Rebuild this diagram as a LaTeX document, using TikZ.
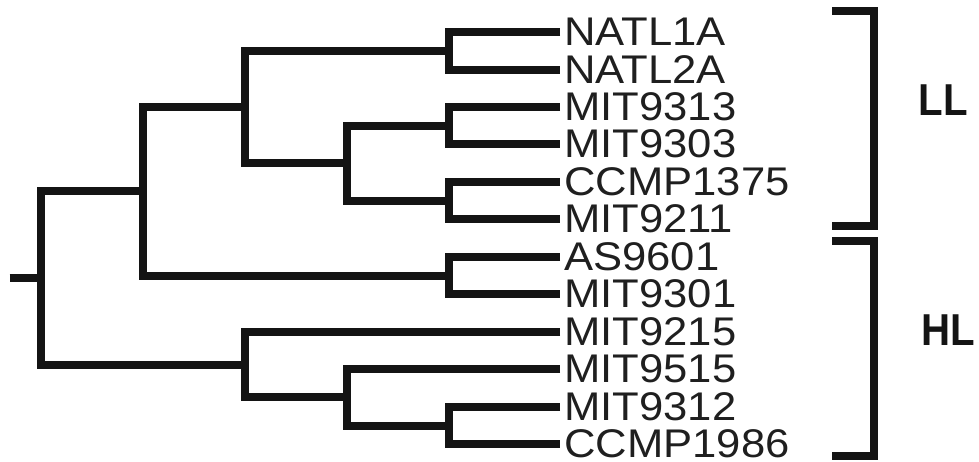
\documentclass[tikz,border=0pt]{standalone}
\usepackage{fontspec}
\setmainfont{Liberation Sans}
\begin{document}
\begin{tikzpicture}[x=1pt,y=-1pt,
  branch/.style={line width=8pt,line join=miter,line cap=butt,color=black!92},
  bracketline/.style={line width=8.5pt,line join=miter,line cap=butt,color=black!92},
  leaf/.style={anchor=west,inner sep=0pt,font=\fontsize{40}{40}\selectfont,text=black!88},
  group/.style={inner sep=0pt,font=\fontsize{44.7}{44.7}\selectfont\bfseries,text=black!92}]
\useasboundingbox (0,0) rectangle (979,461);
% leaf tips
\foreach \n/\y in {1/32,2/69.5,3/107,4/144,5/182,6/219,7/257,8/294,9/332,10/369,11/407,12/444}{
  \coordinate (t\n) at (560,\y);
}
% leaf labels
\node[leaf] (l1) at (564,32) {\scalebox{1.09}[1]{NATL1A}};
\node[leaf] (l2) at (564,69.5) {\scalebox{1.09}[1]{NATL2A}};
\node[leaf] (l3) at (564,107) {\scalebox{1.09}[1]{MIT9313}};
\node[leaf] (l4) at (564,144) {\scalebox{1.09}[1]{MIT9303}};
\node[leaf] (l5) at (564,182) {\scalebox{1.09}[1]{CCMP1375}};
\node[leaf] (l6) at (564,219) {\scalebox{1.09}[1]{MIT9211}};
\node[leaf] (l7) at (564,257) {\scalebox{1.09}[1]{AS9601}};
\node[leaf] (l8) at (564,294) {\scalebox{1.09}[1]{MIT9301}};
\node[leaf] (l9) at (564,332) {\scalebox{1.09}[1]{MIT9215}};
\node[leaf] (l10) at (564,369) {\scalebox{1.09}[1]{MIT9515}};
\node[leaf] (l11) at (564,407) {\scalebox{1.09}[1]{MIT9312}};
\node[leaf] (l12) at (564,444) {\scalebox{1.09}[1]{CCMP1986}};
% internal nodes
\coordinate (p12) at (449,50.75);
\coordinate (p34) at (449,125.5);
\coordinate (p56) at (449,200.5);
\coordinate (p78) at (449,275.5);
\coordinate (p1112) at (449,425.5);
\coordinate (d1) at (347,163);
\coordinate (d2) at (347,397.25);
\coordinate (c1) at (245,106.9);
\coordinate (h1) at (245,364.6);
\coordinate (b1) at (143,191.2);
\coordinate (root) at (41,277.9);
\coordinate (stub) at (9.5,277.9);
% branches
\draw[branch] (t1) -- (t1 -| p12) -- (t2 -| p12) -- (t2);
\draw[branch] (t3) -- (t3 -| p34) -- (t4 -| p34) -- (t4);
\draw[branch] (t5) -- (t5 -| p56) -- (t6 -| p56) -- (t6);
\draw[branch] (t7) -- (t7 -| p78) -- (t8 -| p78) -- (t8);
\draw[branch] (t11) -- (t11 -| p1112) -- (t12 -| p1112) -- (t12);
\draw[branch] (p34) -- (p34 -| d1) -- (p56 -| d1) -- (p56);
\draw[branch] (p12) -- (p12 -| c1) -- (d1 -| c1) -- (d1);
\draw[branch] (c1) -- (c1 -| b1) -- (p78 -| b1) -- (p78);
\draw[branch] (t10) -- (t10 -| d2) -- (p1112 -| d2) -- (p1112);
\draw[branch] (t9) -- (t9 -| h1) -- (d2 -| h1) -- (d2);
\draw[branch] (b1) -- (b1 -| root) -- (h1 -| root) -- (h1);
\draw[branch] (stub) -- (root);
% brackets
\coordinate (lltop) at (832,11);
\coordinate (llbot) at (832,226);
\coordinate (hltop) at (832,241);
\coordinate (hlbot) at (832,456);
\coordinate (bx) at (874,0);
\draw[bracketline] (lltop) -- (lltop -| bx) -- (llbot -| bx) -- (llbot);
\draw[bracketline] (hltop) -- (hltop -| bx) -- (hlbot -| bx) -- (hlbot);
\node[group] (LL) at (943,100) {\scalebox{0.9}[1]{LL}};
\node[group] (HL) at (948,330) {\scalebox{0.9}[1]{HL}};
\end{tikzpicture}
\end{document}
